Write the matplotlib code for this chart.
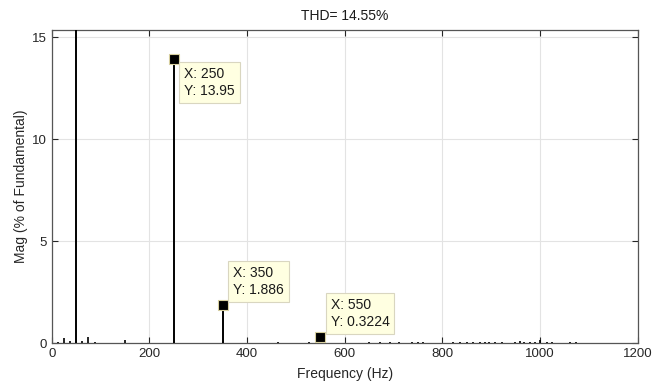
import numpy as np
import matplotlib
matplotlib.use("Agg")
import matplotlib.pyplot as plt

plt.rcParams['font.family'] = ['Liberation Sans', 'DejaVu Sans']

# harmonic spectrum (% of fundamental)
main_freq = [50, 250, 350, 550]
main_mag = [100.0, 13.95, 1.886, 0.3224]

small_freq = [13, 25, 38, 63, 75, 88, 150, 464, 526, 649, 673, 693, 712, 738, 749, 761,
              822, 836, 851, 863, 877, 888, 896, 908, 922, 949, 959, 968, 980, 990,
              1000, 1014, 1024, 1061, 1074, 1098]
small_mag = [0.08, 0.25, 0.1, 0.12, 0.3, 0.06, 0.15, 0.05, 0.05, 0.05, 0.05, 0.05, 0.05,
             0.06, 0.05, 0.05, 0.05, 0.05, 0.05, 0.06, 0.06, 0.07, 0.06, 0.07, 0.06, 0.08,
             0.1, 0.08, 0.08, 0.08, 0.15, 0.06, 0.08, 0.05, 0.06, 0.04]

tip_freq = [250, 350, 550]
tip_mag = [13.95, 1.886, 0.3224]
tip_labels = ["X: 250\nY: 13.95", "X: 350\nY: 1.886", "X: 550\nY: 0.3224"]
tip_offsets = [(7.5, -6), (7.5, 28), (7.5, 28)]

thd = 14.55

fig = plt.figure(figsize=(6.63, 3.85), dpi=100)
ax = fig.add_axes([0.078, 0.108, 0.884, 0.814])

ax.vlines(main_freq, 0, main_mag, color='black', lw=1.4, zorder=3)
ax.vlines(small_freq, 0, small_mag, color='black', lw=1.2, zorder=3)
ax.plot(tip_freq, tip_mag, 's', color='black', ms=6.5, mec='#d8d0a0', mew=0.8, zorder=4)

for f, m, lab, off in zip(tip_freq, tip_mag, tip_labels, tip_offsets):
    ax.annotate(lab, xy=(f, m), xytext=off, textcoords='offset points',
                ha='left', va='top', fontsize=10, color='#1a1a1a', linespacing=1.3,
                bbox=dict(boxstyle='square,pad=0.35', fc='#ffffe1', ec='#d9d6c0', lw=0.8),
                zorder=5)

ax.set_xlim(0, 1200)
ax.set_ylim(0, 15.36)
ax.set_xticks(np.arange(0, 1201, 200))
ax.set_yticks([0, 5, 10, 15])
ax.grid(True, color='#e3e3e3', lw=0.8)
ax.set_axisbelow(True)
ax.tick_params(direction='in', top=True, right=True, length=4, width=0.8,
               colors='#262626', labelsize=9.5, labelcolor='#262626')
for s in ax.spines.values():
    s.set_color('#555555')
    s.set_linewidth(0.9)

ax.set_xlabel('Frequency (Hz)', fontsize=10, color='#262626', labelpad=5)
ax.set_ylabel('Mag (% of Fundamental)', fontsize=10, color='#262626', labelpad=3)
ax.set_title('THD= %.2f%%' % thd, fontsize=10, color='#1a1a1a', pad=7)

fig.savefig('out.png', dpi=100)
